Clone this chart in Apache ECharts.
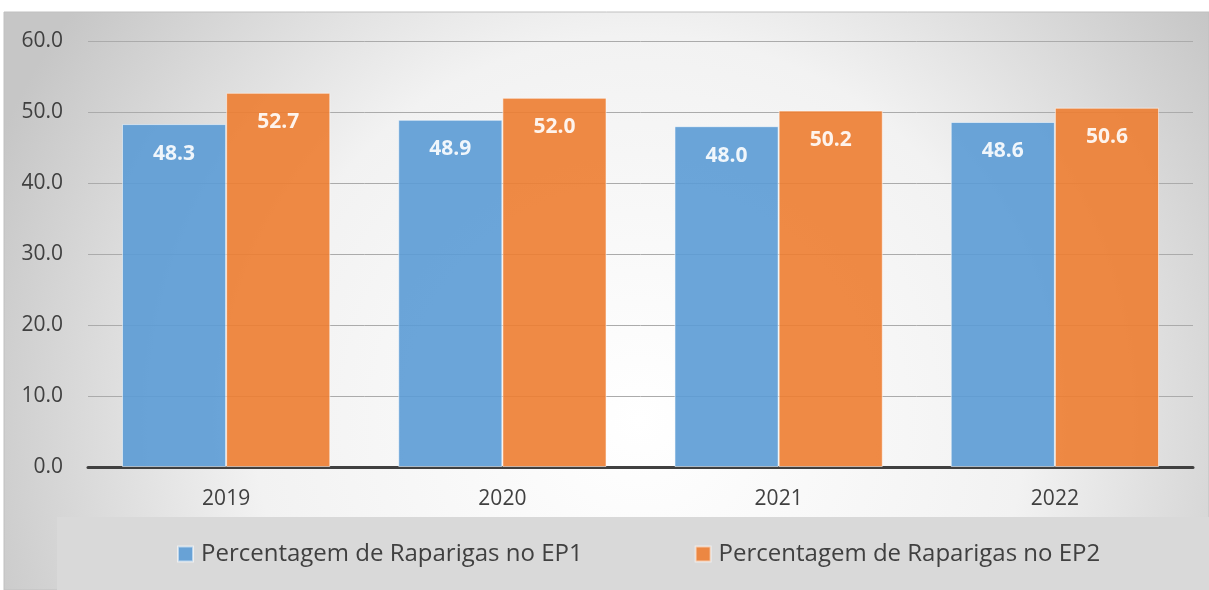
<!DOCTYPE html>
<html><head><meta charset="utf-8">
<script src="https://cdn.jsdelivr.net/npm/echarts@6/dist/echarts.min.js"></script>
<style>html,body{margin:0;padding:0;background:#fff}#c{width:1209px;height:590px}</style>
</head><body><div id="c"></div>
<script>
const categories = ['2019', '2020', '2021', '2022'];
const ep1 = [48.3, 48.9, 48.0, 48.6];
const ep2 = [52.7, 52.0, 50.2, 50.6];
const seriesNames = ['Percentagem de Raparigas no EP1', 'Percentagem de Raparigas no EP2'];
const yTicks = { min: 0, max: 60, interval: 10 };

const chart = echarts.init(document.getElementById('c'));
const FONT = '"Open Sans", "Liberation Sans", sans-serif';
const label = {
  show: true, position: 'insideTop', distance: 19,
  color: '#ffffff', fontWeight: 'bold', fontSize: 21, fontFamily: FONT,
  formatter: p => p.value.toFixed(1)
};
chart.setOption({
  animation: false,
  graphic: [
    { type: 'rect', z: -10, shape: { x: 4, y: 12, width: 1205, height: 578 },
      style: { fill: new echarts.graphic.RadialGradient(640, 420, 700, [
        { offset: 0, color: '#ffffff' }, { offset: 0.55, color: '#f2f2f2' }, { offset: 1, color: '#c6c6c6' }], true),
        stroke: '#c0c0c0', lineWidth: 1 } },
    { type: 'rect', z: -9, shape: { x: 57, y: 517, width: 1152, height: 73 },
      style: { fill: '#d9d9d9' } }
  ],
  grid: { left: 88, right: 16, top: 41, bottom: 123, containLabel: false },
  legend: {
    bottom: 19, left: 172, itemGap: 112, itemWidth: 15, itemHeight: 15,
    icon: 'rect',
    textStyle: { fontSize: 24, color: '#404040', fontFamily: FONT, padding: [0, 0, 0, 3] },
    data: seriesNames
  },
  xAxis: {
    type: 'category', data: categories,
    axisLine: { lineStyle: { color: '#404040', width: 3 } },
    axisTick: { show: false },
    axisLabel: { fontSize: 21, color: '#404040', margin: 22, fontFamily: FONT }
  },
  yAxis: {
    type: 'value', min: yTicks.min, max: yTicks.max, interval: yTicks.interval,
    axisLine: { show: false }, axisTick: { show: false },
    splitLine: { lineStyle: { color: '#ababab', width: 1 } },
    axisLabel: { fontSize: 21, color: '#404040', margin: 25, fontFamily: FONT,
      formatter: v => v.toFixed(1) }
  },
  series: [
    { name: seriesNames[0], type: 'bar', data: ep1, barGap: '0%', barCategoryGap: '24.6%',
      itemStyle: { color: '#5b9bd5', opacity: 0.9, borderColor: 'rgba(255,255,255,0.6)', borderWidth: 1 },
      label },
    { name: seriesNames[1], type: 'bar', data: ep2,
      itemStyle: { color: '#ed7d31', opacity: 0.9, borderColor: 'rgba(255,255,255,0.6)', borderWidth: 1 },
      label }
  ]
});
</script></body></html>
